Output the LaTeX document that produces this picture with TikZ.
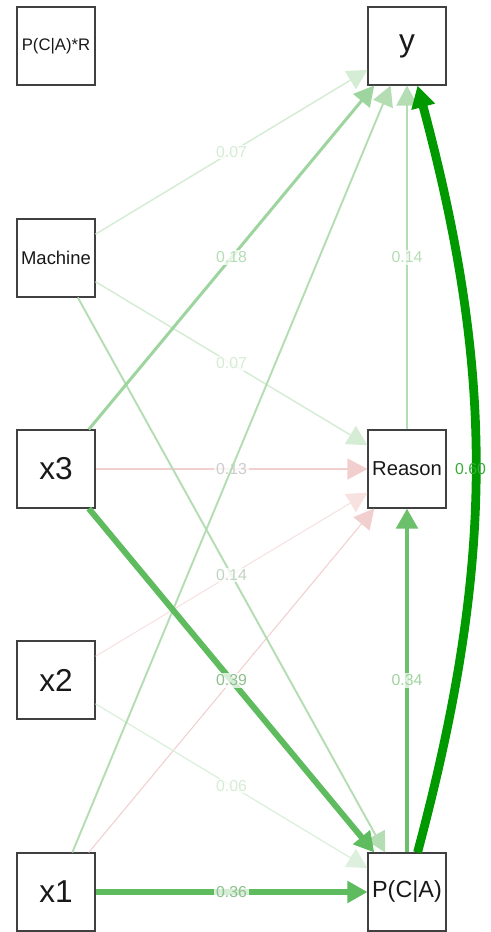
\documentclass[tikz,border=0pt]{standalone}
\usepackage{fontspec}
\setmainfont{Liberation Sans}
\usetikzlibrary{arrows.meta}

\definecolor{gDark}{RGB}{0,153,0}
\definecolor{gMid}{RGB}{94,187,94}
\definecolor{gMidB}{RGB}{108,192,108}
\definecolor{gLight}{RGB}{158,212,158}
\definecolor{gPale}{RGB}{180,221,180}
\definecolor{gFaint}{RGB}{213,236,213}
\definecolor{rFaint}{RGB}{242,207,207}
\definecolor{rPale}{RGB}{247,225,225}

\begin{document}
\begin{tikzpicture}[
    var/.style={rectangle, draw=black!75, line width=0.6pt, fill=white, minimum size=1.56cm, inner sep=0pt, text=black!90},
    link/.style={-{Triangle[length=4mm, width=4.2mm]}},
    lbl/.style={font=\fontsize{9}{10}\selectfont, fill=white, fill opacity=0.75, text opacity=1, inner sep=1pt}
  ]
  \useasboundingbox (0,0) rectangle (9.8,18.64);
  % left column
  \node[var, font=\fontsize{9.5}{11}\selectfont] (PCAR) at (1.12,17.72) {P(C|A)*R};
  \node[var, font=\fontsize{10.5}{12}\selectfont] (Mach) at (1.12,13.48) {Machine};
  \node[var, font=\fontsize{18}{20}\selectfont] (x3) at (1.12,9.26) {x3};
  \node[var, font=\fontsize{18}{20}\selectfont] (x2) at (1.12,5.04) {x2};
  \node[var, font=\fontsize{18}{20}\selectfont] (x1) at (1.12,0.8) {x1};
  % right column
  \node[var, font=\fontsize{18}{20}\selectfont] (y) at (8.14,17.72) {y};
  \node[var, font=\fontsize{11.5}{13}\selectfont] (Rsn) at (8.14,9.26) {Reason};
  \node[var, font=\fontsize{13.3}{15}\selectfont] (PCA) at (8.14,0.8) {P(C|A)};

  % faint paths first
  \draw[link, line width=0.6pt, draw=rPale] (x2) -- (Rsn);
  \draw[link, line width=0.6pt, draw=rFaint] (x1) -- (Rsn);
  \draw[link, line width=0.75pt, draw=gFaint!80] (x2) -- node[lbl, text=gFaint]{0.06} (PCA);
  \draw[link, line width=0.85pt, draw=gFaint] (Mach) -- node[lbl, text=gFaint]{0.07} (y);
  \draw[link, line width=0.85pt, draw=gFaint] (Mach) -- node[lbl, text=gFaint]{0.07} (Rsn);
  \draw[link, line width=0.85pt, draw=rFaint] (x3) -- node[lbl, text=black!20]{0.13} (Rsn);
  \draw[link, line width=1.1pt, draw=gPale] (x1) -- (y);
  \draw[link, line width=1.1pt, draw=gPale] (Mach) -- node[lbl, text=gFaint!90!black]{0.14} (PCA);
  \draw[link, line width=1.4pt, draw=gPale] (Rsn) -- node[lbl, text=gPale]{0.14} (y);
  \draw[link, line width=1.7pt, draw=gLight] (x3) -- node[lbl, text=gPale]{0.18} (y);

  % strong paths
  \draw[link, line width=2.8pt, draw=gMidB] (PCA) -- node[lbl, text=gLight]{0.34} (Rsn);
  \draw[link, line width=3.1pt, draw=gMid] (x1) -- node[lbl, text=gLight!90!black]{0.36} (PCA);
  \draw[link, line width=3.4pt, draw=gMid] (x3) -- node[lbl, text=gLight!90!black]{0.39} (PCA);
  \draw[-{Triangle[length=4.4mm, width=4.6mm]}, line width=5pt, draw=gDark] (PCA) to[bend right=15] node[lbl, fill opacity=0, xshift=-0.1cm, text=gDark!80!white]{0.60} (y);
\end{tikzpicture}
\end{document}
